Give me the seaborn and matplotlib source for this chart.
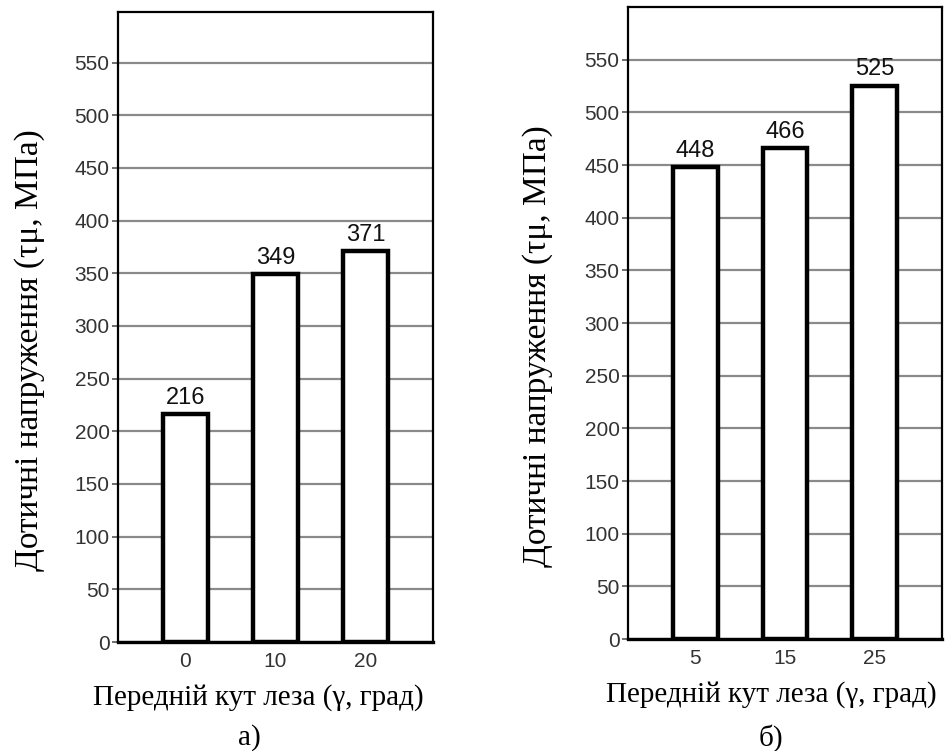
"""Tangential stress vs rake angle, two bar panels."""

import matplotlib
matplotlib.use("Agg")
import matplotlib.pyplot as plt
import seaborn as sns
import pandas as pd

# panel a)
angles_a = ["0", "10", "20"]
stress_a = [216, 349, 371]
# panel b)
angles_b = ["5", "15", "25"]
stress_b = [448, 466, 525]

y_ticks = list(range(0, 551, 50))
x_label = "Передній кут леза (γ, град)"
y_label = "Дотичні напруження (τμ, МПа)"
panel_tags = ["а)", "б)"]

sns.set_theme(style="white")
plt.rcParams["font.family"] = ["Liberation Sans", "DejaVu Sans"]
serif = ["Liberation Serif", "DejaVu Serif"]

fig = plt.figure(figsize=(9.46, 7.51), dpi=100)
ax_a = fig.add_axes([0.1247, 0.1451, 0.333, 0.839])
ax_b = fig.add_axes([0.6638, 0.1491, 0.332, 0.8415])

panels = [
    (ax_a, angles_a, stress_a, 598, 0.445, -0.232),
    (ax_b, angles_b, stress_b, 600, 0.456, -0.239),
]

for ax, angles, stress, ytop, xl_x, yl_x in panels:
    df = pd.DataFrame({"angle": angles, "stress": stress})
    sns.barplot(data=df, x="angle", y="stress", ax=ax, color="white",
                saturation=1, edgecolor="black", linewidth=3.2, width=0.5,
                zorder=3)
    ax.set_xlim(-0.75, 2.75)
    ax.set_ylim(0, ytop)
    ax.set_yticks(y_ticks)
    ax.yaxis.grid(True, color="#8a8a8a", linewidth=1.6, zorder=0)
    ax.set_axisbelow(True)
    ax.tick_params(axis="y", length=4, width=1.2, color="#555555",
                   labelsize=15, labelcolor="#333333", pad=2, left=True)
    ax.tick_params(axis="x", length=0, labelsize=15, labelcolor="#333333",
                   pad=7)
    for side in ["left", "right", "top"]:
        ax.spines[side].set_color("black")
        ax.spines[side].set_linewidth(1.6)
    ax.spines["bottom"].set_color("black")
    ax.spines["bottom"].set_linewidth(2.4)

    ax.bar_label(ax.containers[0], labels=[str(v) for v in stress],
                 padding=4, fontsize=17, color="#111111")

    ax.set_xlabel(x_label, family=serif, fontsize=21, color="black")
    ax.xaxis.set_label_coords(xl_x, -0.066)
    ax.set_ylabel(y_label, family=serif, fontsize=24, color="black")
    ax.yaxis.set_label_coords(yl_x, 0.464)

for tag, tx in zip(panel_tags, [0.264, 0.815]):
    fig.text(tx, 1 - 738 / 751, tag, family=serif, fontsize=21,
             ha="center", va="center", color="black")

fig.savefig("out.png", dpi=100, facecolor="white")
